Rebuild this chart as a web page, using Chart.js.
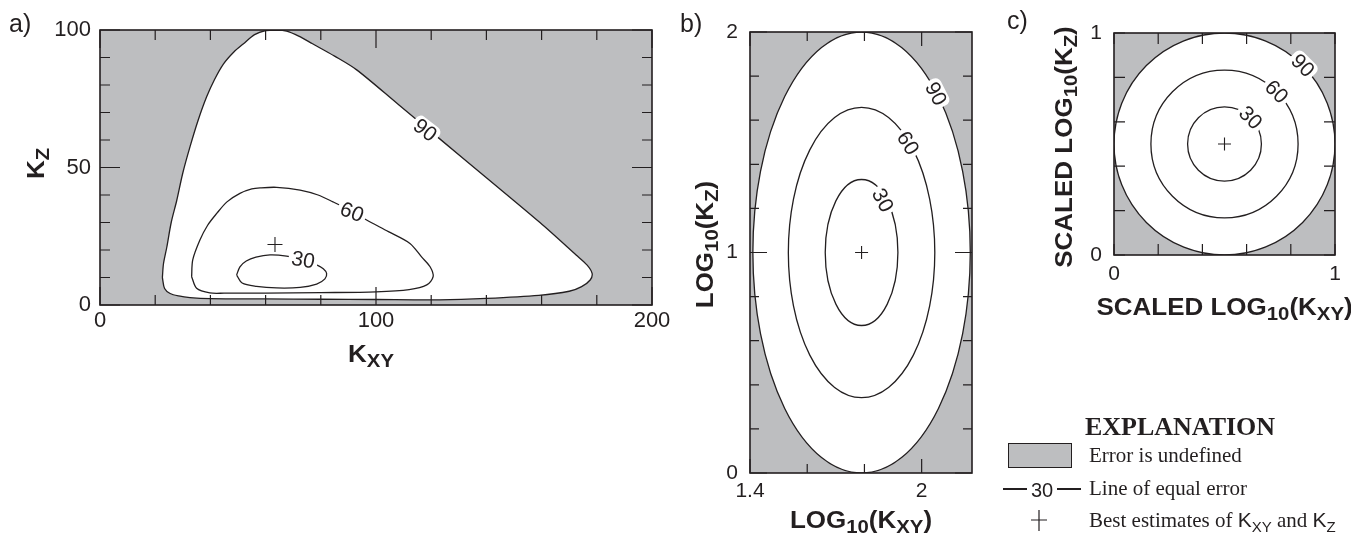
<!DOCTYPE html>
<html>
<head>
<meta charset="utf-8">
<script src="https://cdn.jsdelivr.net/npm/chart.js@4.4.0/dist/chart.umd.min.js"></script>
<style>
    body { margin: 0; background: #fff; width: 1351px; height: 537px; position: relative; overflow: hidden; }
    canvas { position: absolute; top: 0; }
</style>
</head>
<body>
<canvas id="graficoA" width="680" height="537" style="left:0px"></canvas>
<canvas id="graficoB" width="305" height="537" style="left:680px"></canvas>
<canvas id="graficoC" width="366" height="537" style="left:985px"></canvas>
<script>
// ---- panel a : error contours in Kxy / Kz space ----
var kxy90 = [22.6, 23.0, 24.2, 25.8, 27.8, 30.0, 32.6, 35.5, 38.6, 41.5, 44.7, 48.5, 52.0, 56.0, 60.0, 64.0, 67.6, 72.0, 77.0, 85.0, 93.0, 108.0, 123.0, 140.0, 159.4, 172.5, 176.5, 178.3, 177.6, 174.5, 170.0, 159.0, 140.0, 123.0, 100.0, 80.0, 60.0, 40.0, 32.6, 28.5, 25.4, 23.4, 22.6];
var kz90  = [10, 15, 21, 30, 38, 48, 57.5, 67, 75.6, 82, 87.6, 92, 95, 98.3, 99.8, 100, 99.6, 97.8, 95, 90.5, 85.5, 73, 60.5, 46.3, 30, 18.2, 14.5, 11.5, 9.1, 6.7, 5.0, 3.5, 2.4, 1.9, 2.0, 2.1, 2.2, 2.3, 2.7, 3.3, 4.2, 6.0, 10];

var kxy60 = [33.2, 33.6, 36.2, 39.0, 42.3, 46.0, 50.7, 55.0, 58.0, 64.0, 72.5, 79.0, 84.4, 91.0, 96.6, 104.5, 112.3, 116.5, 119.6, 120.7, 118.4, 112.0, 100.0, 80.0, 60.0, 45.0, 39.8, 35.0, 33.2];
var kz60  = [10.3, 16.4, 23.6, 29.0, 33.3, 37.5, 40.6, 42.2, 42.6, 42.8, 41.8, 40.0, 37.5, 34.2, 30.9, 26.7, 22.4, 17.5, 13.9, 10.3, 7.3, 5.6, 4.8, 4.5, 4.3, 4.3, 4.4, 6.1, 10.3];

var kxy30 = [49.5, 50.7, 53.0, 56.5, 61.6, 67.6, 73.6, 78.5, 80.9, 82.1, 81.5, 78.5, 72.5, 64.0, 56.7, 51.5, 49.5];
var kz30  = [10.9, 13.9, 16.0, 17.4, 18.2, 17.8, 16.6, 14.6, 13.2, 11.5, 9.5, 7.6, 6.4, 6.2, 6.8, 8.0, 10.9];

var melhorA = [63.4, 22.0];

var ticksXA = [0, 20, 40, 60, 80, 100, 120, 140, 160, 180, 200];
var rotulosXA = ["0", "", "", "", "", "100", "", "", "", "", "200"];
var ticksYA = [0, 10, 20, 30, 40, 50, 60, 70, 80, 90, 100];
var rotulosYA = ["0", "", "", "", "", "50", "", "", "", "", "100"];

var niveis = ["90", "60", "30"];
var rotuloKxyA = [117.8, 91.3, 73.6];
var rotuloKzA  = [63.6, 33.8, 16.4];
var anguloA    = [38, 22, 10];

// ---- panel b : log10 space, ellipses ----
var centroB = [1.79, 1.0];
var semiXB  = [0.38, 0.256, 0.127];
var semiYB  = [1.0, 0.658, 0.331];
var melhorB = [1.79, 1.0];

var ticksXB = [1.4, 1.6, 1.8, 2.0];
var rotulosXB = ["1.4", "", "", "2"];
var ticksYB = [0, 0.2, 0.4, 0.6, 0.8, 1.0, 1.2, 1.4, 1.6, 1.8, 2.0];
var rotulosYB = ["0", "", "", "", "", "1", "", "", "", "", "2"];

var rotuloXB = [2.05, 1.952, 1.864];
var rotuloYB = [1.72, 1.496, 1.237];
var anguloB  = [63, 58, 62];

// ---- panel c : scaled log10 space, circles ----
var centroC = [0.5, 0.5];
var raioC   = [0.5, 0.333, 0.167];
var melhorC = [0.5, 0.5];

var ticksC = [0, 0.2, 0.4, 0.6, 0.8, 1.0];
var rotulosC = ["0", "", "", "", "", "1"];

var rotuloXC = [0.854, 0.736, 0.618];
var rotuloYC = [0.854, 0.736, 0.618];
var anguloC  = [45, 45, 45];

var tinta = "#231f20";
var cinza = "#bdbec0";
var sans = "'Liberation Sans', Arial, Helvetica, sans-serif";
var serif = "'Liberation Serif', 'Times New Roman', serif";

function pontos(xs, ys) {
    var lista = [];
    for (var i = 0; i < xs.length; i++) {
        lista.push({ x: xs[i], y: ys[i] });
    }
    return lista;
}

// text with subscripts, parts = [[text, isSub, family], ...]
function textoRico(ctx, partes, x, y, alinhamento, rotacao, tamanho, sub, esticar, negrito) {
    ctx.save();
    ctx.translate(x, y);
    if (rotacao) ctx.rotate(rotacao);
    ctx.scale(esticar || 1, 1);
    var peso = negrito ? "bold " : "";
    var largura = 0;
    partes.forEach(function (p) {
        ctx.font = peso + (p[1] ? sub : tamanho) + "px " + (p[2] || sans);
        largura += ctx.measureText(p[0]).width;
    });
    var cx = alinhamento === "center" ? -largura / 2 : 0;
    ctx.textAlign = "left";
    ctx.textBaseline = "alphabetic";
    ctx.fillStyle = tinta;
    partes.forEach(function (p) {
        ctx.font = peso + (p[1] ? sub : tamanho) + "px " + (p[2] || sans);
        ctx.fillText(p[0], cx, p[1] ? 5 : 0);
        cx += ctx.measureText(p[0]).width;
    });
    ctx.restore();
}

function eixo(min, max, ticks, rotulos, posicao, tamanhoFonte, padding, fit) {
    return {
        type: "linear",
        position: posicao,
        min: min,
        max: max,
        grid: { display: false, drawTicks: false },
        border: { display: false },
        afterBuildTicks: function (s) {
            s.ticks = ticks.map(function (v) { return { value: v }; });
        },
        afterFit: function (s) {
            if (posicao === "left") s.width = fit; else s.height = fit;
        },
        ticks: {
            autoSkip: false,
            maxRotation: 0,
            padding: padding,
            color: tinta,
            font: { family: sans, size: tamanhoFonte },
            callback: function (v, i) { return rotulos[i]; }
        }
    };
}

// gray background, frame, inward ticks, contour labels, titles
function decoracao(cfg) {
    return {
        id: "decoracao" + cfg.nome,
        beforeDraw: function (chart) {
            var a = chart.chartArea, ctx = chart.ctx;
            ctx.save();
            ctx.fillStyle = cinza;
            ctx.fillRect(a.left, a.top, a.right - a.left, a.bottom - a.top);
            ctx.restore();
        },
        beforeDatasetsDraw: function (chart) {
            if (!cfg.elipses) return;
            var a = chart.chartArea, ctx = chart.ctx, sx = chart.scales.x, sy = chart.scales.y;
            var e = cfg.elipses;
            var cx = sx.getPixelForValue(e.centro[0]);
            var cy = sy.getPixelForValue(e.centro[1]);
            ctx.save();
            ctx.beginPath();
            ctx.rect(a.left, a.top, a.right - a.left, a.bottom - a.top);
            ctx.clip();
            for (var i = 0; i < e.rx.length; i++) {
                var rx = sx.getPixelForValue(e.centro[0] + e.rx[i]) - cx;
                var ry = cy - sy.getPixelForValue(e.centro[1] + e.ry[i]);
                ctx.beginPath();
                ctx.ellipse(cx, cy, rx, ry, 0, 0, Math.PI * 2);
                if (i === 0) {
                    ctx.fillStyle = "#fff";
                    ctx.fill();
                }
                ctx.strokeStyle = tinta;
                ctx.lineWidth = 1.3;
                ctx.stroke();
            }
            ctx.restore();
        },
        afterDatasetsDraw: function (chart) {
            var a = chart.chartArea, ctx = chart.ctx, sx = chart.scales.x, sy = chart.scales.y;
            ctx.save();

            // contour labels with white boxes
            ctx.font = "21px " + sans;
            for (var i = 0; i < niveis.length; i++) {
                var px = sx.getPixelForValue(cfg.rotX[i]);
                var py = sy.getPixelForValue(cfg.rotY[i]);
                ctx.save();
                ctx.translate(px, py);
                ctx.rotate(cfg.ang[i] * Math.PI / 180);
                var w = ctx.measureText(niveis[i]).width;
                ctx.fillStyle = "#fff";
                ctx.beginPath();
                ctx.roundRect(-w / 2 - 3, -10, w + 6, 20, 6);
                ctx.fill();
                ctx.fillStyle = tinta;
                ctx.textAlign = "center";
                ctx.textBaseline = "middle";
                ctx.fillText(niveis[i], 0, 1);
                ctx.restore();
            }

            // frame
            ctx.strokeStyle = tinta;
            ctx.lineWidth = 1.6;
            ctx.strokeRect(a.left, a.top, a.right - a.left, a.bottom - a.top);

            // inward ticks on all four sides
            ctx.lineWidth = 1.2;
            sx.ticks.forEach(function (t, i) {
                var p = sx.getPixelForValue(t.value);
                var len = cfg.rotulosX[i] ? cfg.maiorX : cfg.menor;
                ctx.beginPath();
                ctx.moveTo(p, a.bottom); ctx.lineTo(p, a.bottom - len);
                ctx.moveTo(p, a.top); ctx.lineTo(p, a.top + len);
                ctx.stroke();
            });
            sy.ticks.forEach(function (t, i) {
                var p = sy.getPixelForValue(t.value);
                var len = cfg.rotulosY[i] ? cfg.maiorY : cfg.menor;
                ctx.beginPath();
                ctx.moveTo(a.left, p); ctx.lineTo(a.left + len, p);
                ctx.moveTo(a.right, p); ctx.lineTo(a.right - len, p);
                ctx.stroke();
            });
            ctx.restore();

            // panel letter
            ctx.save();
            ctx.fillStyle = tinta;
            ctx.font = "25px " + sans;
            ctx.textBaseline = "alphabetic";
            ctx.fillText(cfg.letra[0], cfg.letra[1], cfg.letra[2]);
            ctx.restore();

            // axis titles
            var meioX = (a.left + a.right) / 2 + (cfg.desvioX || 0);
            var meioY = (a.top + a.bottom) / 2;
            textoRico(ctx, cfg.tituloX, meioX, a.bottom + cfg.baseX, "center", 0, 23, 18, 1.13, true);
            textoRico(ctx, cfg.tituloY, cfg.baseY, meioY + cfg.desvioY, "center", -Math.PI / 2, 23, 18, 1.13, true);
        }
    };
}

function grafico(id, datasets, escalas, padding, cfg, extras) {
    var plugins = [decoracao(cfg)];
    if (extras) plugins.push(extras);
    return new Chart(document.getElementById(id), {
        type: "scatter",
        data: { datasets: datasets },
        options: {
            responsive: false,
            animation: false,
            layout: { padding: padding },
            plugins: {
                legend: { display: false },
                tooltip: { enabled: false },
                filler: { drawTime: "beforeDatasetsDraw" }
            },
            scales: escalas
        },
        plugins: plugins
    });
}

function linha(dados, preencher) {
    return {
        data: dados,
        showLine: true,
        tension: 0.3,
        borderColor: tinta,
        borderWidth: 1.3,
        backgroundColor: "#fff",
        fill: preencher ? "shape" : false,
        pointRadius: 0
    };
}

function marcador(ponto, raio) {
    return {
        data: [{ x: ponto[0], y: ponto[1] }],
        showLine: false,
        pointStyle: "cross",
        pointRadius: raio,
        borderColor: tinta,
        borderWidth: 1.1,
        backgroundColor: tinta
    };
}

// ---- a ----
grafico("graficoA", [
    linha(pontos(kxy90, kz90), true),
    linha(pontos(kxy60, kz60), false),
    linha(pontos(kxy30, kz30), false),
    marcador(melhorA, 7.5)
], {
    x: eixo(0, 200, ticksXA, rotulosXA, "bottom", 22, 3, 232),
    y: eixo(0, 100, ticksYA, rotulosYA, "left", 22, 9, 60)
}, { left: 40, top: 30, right: 28, bottom: 0 }, {
    nome: "A",
    rotX: rotuloKxyA, rotY: rotuloKzA, ang: anguloA,
    rotulosX: rotulosXA, rotulosY: rotulosYA,
    menor: 10, maiorX: 18, maiorY: 20,
    letra: ["a)", 9, 32],
    tituloX: [["K", false], ["XY", true]], baseX: 57, desvioX: -5,
    tituloY: [["K", false], ["Z", true]], baseY: 44, desvioY: -4
});

// ---- b ----
grafico("graficoB", [
    marcador(melhorB, 6.5)
], {
    x: eixo(1.4, 2.176, ticksXB, rotulosXB, "bottom", 21, 6, 64),
    y: eixo(0, 2, ticksYB, rotulosYB, "left", 21, 12, 60)
}, { left: 10, top: 32, right: 13, bottom: 0 }, {
    nome: "B",
    elipses: { centro: centroB, rx: semiXB, ry: semiYB },
    rotX: rotuloXB, rotY: rotuloYB, ang: anguloB,
    rotulosX: rotulosXB, rotulosY: rotulosYB,
    menor: 9, maiorX: 14, maiorY: 17,
    letra: ["b)", 0, 32],
    tituloX: [["LOG", false], ["10", true], ["(K", false], ["XY", true], [")", false]], baseX: 55,
    tituloY: [["LOG", false], ["10", true], ["(K", false], ["Z", true], [")", false]], baseY: 33, desvioY: -8
});

// ---- c (with explanation) ----
var explicacao = {
    id: "explicacao",
    afterDraw: function (chart) {
        var ctx = chart.ctx;
        ctx.save();
        ctx.fillStyle = tinta;
        ctx.textBaseline = "alphabetic";
        ctx.font = "bold 26px " + serif;
        ctx.textAlign = "center";
        ctx.fillText("EXPLANATION", 195, 435);

        ctx.textAlign = "left";
        ctx.fillStyle = cinza;
        ctx.fillRect(23, 443, 63, 24);
        ctx.strokeStyle = tinta;
        ctx.lineWidth = 1;
        ctx.strokeRect(23.5, 443.5, 63, 24);

        ctx.fillStyle = tinta;
        ctx.font = "21px " + serif;
        ctx.fillText("Error is undefined", 104, 462);
        ctx.fillText("Line of equal error", 104, 495);

        ctx.lineWidth = 2;
        ctx.beginPath();
        ctx.moveTo(18, 489); ctx.lineTo(42, 489);
        ctx.moveTo(72, 489); ctx.lineTo(96, 489);
        ctx.stroke();
        ctx.font = "20px " + sans;
        ctx.textAlign = "center";
        ctx.fillText("30", 57, 497);

        ctx.lineWidth = 1.2;
        ctx.beginPath();
        ctx.moveTo(46, 520); ctx.lineTo(62, 520);
        ctx.moveTo(54, 510); ctx.lineTo(54, 531);
        ctx.stroke();
        ctx.restore();

        textoRico(ctx, [
            ["Best estimates of ", false, serif],
            ["K", false], ["XY", true],
            [" and ", false, serif],
            ["K", false], ["Z", true]
        ], 104, 527, "left", 0, 21, 15, 1, false);
    }
};

grafico("graficoC", [
    marcador(melhorC, 6.5)
], {
    x: eixo(0, 1, ticksC, rotulosC, "bottom", 21, 7, 282),
    y: eixo(0, 1, ticksC, rotulosC, "left", 21, 12, 60)
}, { left: 69, top: 33, right: 16, bottom: 0 }, {
    nome: "C",
    elipses: { centro: centroC, rx: raioC, ry: raioC },
    rotX: rotuloXC, rotY: rotuloYC, ang: anguloC,
    rotulosX: rotulosC, rotulosY: rotulosC,
    menor: 11, maiorX: 11, maiorY: 11,
    letra: ["c)", 22, 29],
    tituloX: [["SCALED LOG", false], ["10", true], ["(K", false], ["XY", true], [")", false]], baseX: 60,
    tituloY: [["SCALED LOG", false], ["10", true], ["(K", false], ["Z", true], [")", false]], baseY: 87, desvioY: 3
}, explicacao);
</script>
</body>
</html>
